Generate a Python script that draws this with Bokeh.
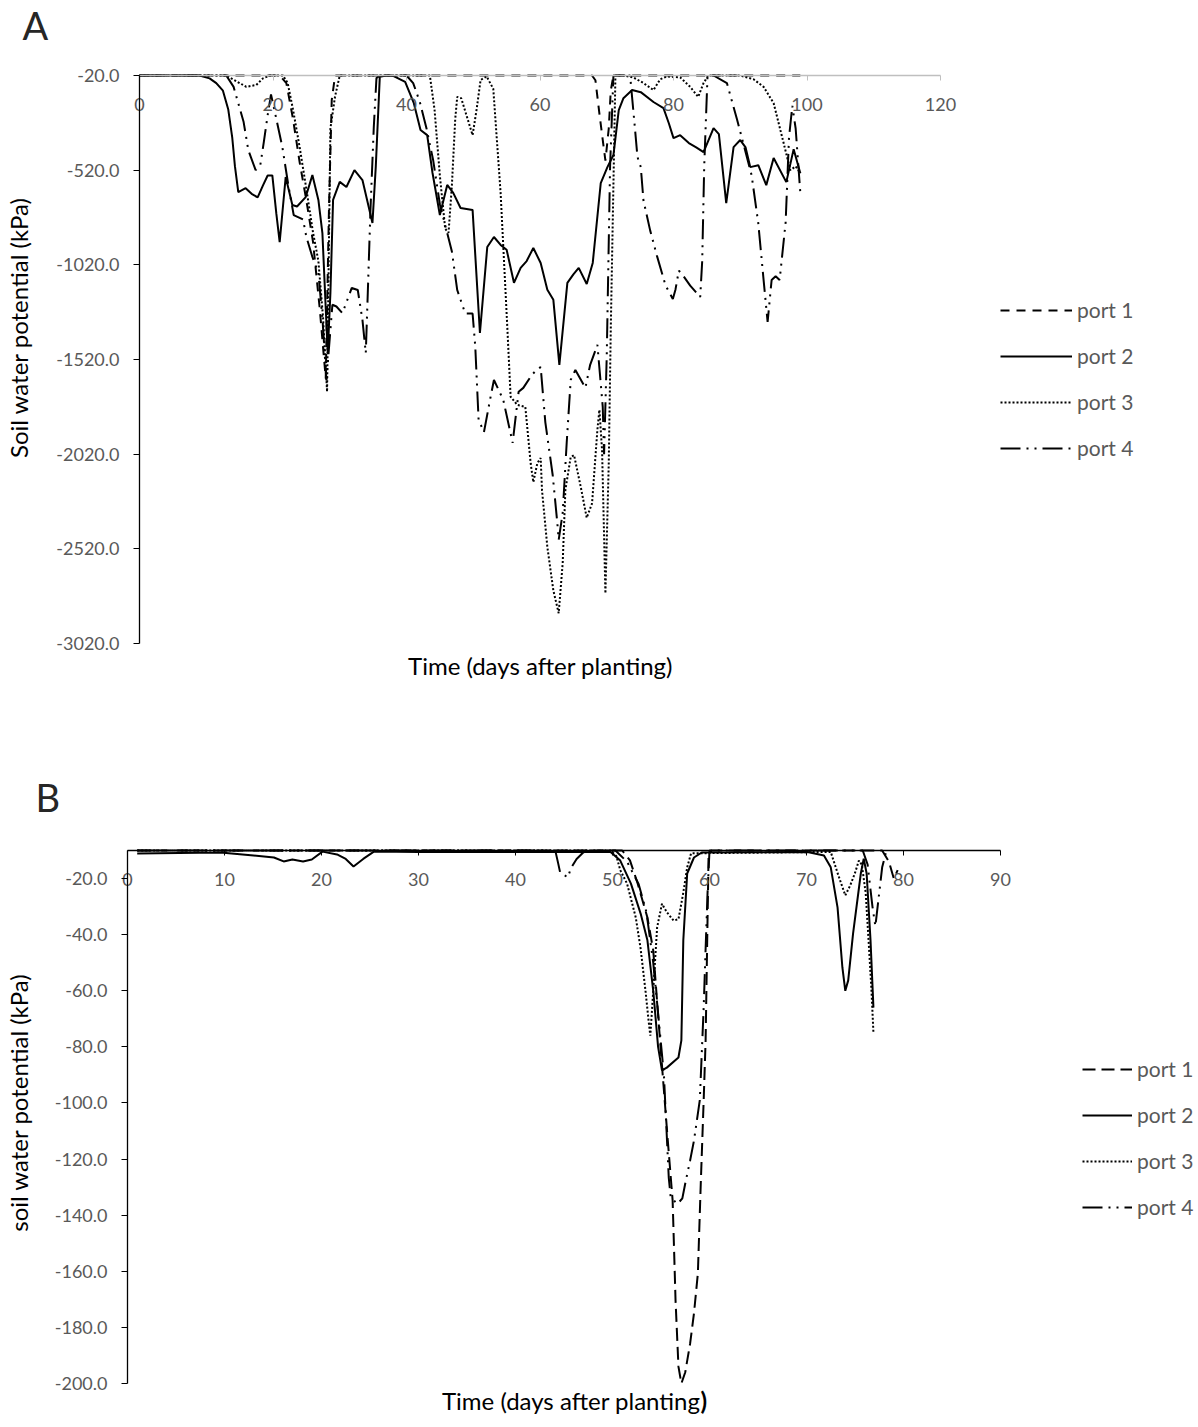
import math
from bokeh.plotting import figure
from bokeh.models import Range1d, FixedTicker, PrintfTickFormatter, Legend, LegendItem, Label
from bokeh.layouts import column
from bokeh.embed import file_html
from bokeh.resources import INLINE

FONT = "Lato"
TICK_GRAY = "#595959"

SERIES = ["port 1", "port 2", "port 3", "port 4"]

# ---------------- Panel A data (day, kPa) ----------------
A_XTICKS = [0, 20, 40, 60, 80, 100, 120]
A_YTICKS = [-3020, -2520, -2020, -1520, -1020, -520, -20]

A_PORT1 = [(0, -20), (21, -20), (22, -60), (23, -250), (24, -480), (25, -680), (26, -900),
           (27, -1250), (27.9, -1620), (28.4, -700), (28.8, -150), (29.3, -20), (67.8, -20),
           (68.3, -45), (69.0, -250), (69.8, -470), (70.3, -300), (70.6, -100), (71.0, -20),
           (99, -20)]

A_PORT2 = [(0, -20), (9, -20), (10.5, -35), (11.5, -60), (12.5, -100), (13.3, -200), (13.9, -350),
           (14.3, -500), (14.8, -636), (15.9, -615), (16.8, -645), (17.7, -664), (18.5, -600),
           (19.2, -548), (19.9, -548), (20.5, -750), (21.0, -900), (21.9, -556), (22.9, -704),
           (23.6, -712), (24.9, -662), (25.9, -546), (26.8, -677), (27.4, -852), (28.2, -1486),
           (28.6, -1169), (29.0, -677), (30.0, -582), (31.0, -609), (32.2, -520), (33.4, -572),
           (34.9, -799), (35.4, -500), (36.0, -27), (37, -20), (38, -22), (39.8, -54), (41.1, -166),
           (42.1, -308), (43.1, -335), (43.9, -535), (45.0, -757), (46.1, -598), (47.0, -640),
           (48.1, -720), (49.9, -730), (51.0, -1380), (52.1, -926), (53.1, -873), (54.1, -915),
           (55.0, -940), (56.1, -1115), (57.1, -1036), (58.0, -1000), (59.0, -931), (60.1, -1010),
           (61.1, -1152), (62.0, -1205), (62.9, -1548), (64.1, -1115), (65.0, -1070), (65.8, -1036),
           (67.0, -1121), (67.9, -1010), (69.1, -588), (70.1, -504), (71.0, -440), (71.8, -203),
           (72.5, -140), (73.8, -97), (75.1, -108), (77.0, -160), (78.5, -192), (79.3, -272),
           (80.0, -351), (81.0, -335), (82.3, -377), (83.4, -400), (84.5, -425), (86.0, -298),
           (86.8, -330), (87.9, -694), (89.0, -398), (90.0, -361), (90.8, -400), (91.5, -504),
           (92.7, -494), (93.9, -599), (95.0, -456), (96.9, -583), (98.0, -409), (99.0, -536)]

A_PORT3 = [(0, -20), (13, -20), (14.5, -50), (16, -80), (17.5, -70), (18.5, -35), (19.5, -20),
           (21.5, -20), (22.2, -60), (23, -200), (24, -400), (25, -620), (26, -850), (26.8, -1000),
           (27.5, -1300), (28.1, -1690), (28.6, -300), (29.3, -130), (30, -20), (43.5, -20),
           (44.2, -200), (45, -550), (45.8, -830), (46.3, -850), (46.8, -600), (47.3, -250),
           (47.6, -133), (48.2, -140), (49.9, -335), (50.5, -200), (51.1, -44), (52, -25),
           (53, -90), (54.1, -641), (55.1, -1348), (55.6, -1717), (56.6, -1760), (57.8, -1770),
           (58.6, -2068), (59.0, -2168), (59.6, -2068), (60.1, -2040), (60.3, -2210), (61.1, -2510),
           (62.0, -2740), (62.8, -2860), (63.4, -2596), (63.8, -2210), (64.6, -2035), (65.1, -2025),
           (66.1, -2192), (67.0, -2356), (67.8, -2280), (68.6, -1890), (68.9, -1786), (69.3, -2000),
           (69.8, -2755), (70.3, -2068), (70.6, -1364), (71.3, -20), (72.5, -20), (74, -30),
           (75.5, -60), (77, -97), (78, -40), (79, -25), (81, -30), (82.5, -80), (83.7, -133),
           (84.5, -60), (85.2, -20), (90, -20), (92, -40), (93.5, -80), (95, -166), (96.5, -377),
           (97.5, -520), (98.3, -500), (99, -536)]

A_PORT4 = [(0, -20), (13, -20), (14.1, -80), (15.6, -266), (16.3, -414), (17.4, -520), (18.1, -493),
           (18.6, -377), (19.2, -230), (19.7, -120), (20.2, -200), (21.4, -398), (22.3, -600),
           (23.1, -757), (24.5, -780), (25.0, -873), (25.9, -978), (26.8, -1063), (27.4, -1300),
           (28.0, -1630), (28.9, -1231), (29.5, -1240), (30.4, -1275), (31.8, -1142), (32.7, -1153),
           (33.4, -1311), (33.9, -1486), (34.2, -1169), (34.6, -731), (35.1, -292), (35.5, -34),
           (36, -20), (40, -20), (41, -60), (42, -160), (43, -300), (44, -468), (45, -700),
           (46.1, -852), (46.8, -950), (47.6, -1153), (48.8, -1277), (49.9, -1277), (50.3, -1450),
           (50.8, -1838), (51.6, -1904), (52.6, -1717), (53.1, -1628), (53.8, -1680), (54.5, -1734),
           (55.9, -1960), (56.8, -1690), (57.5, -1670), (58.8, -1600), (59.5, -1575), (60.1, -1560),
           (60.8, -1852), (61.9, -2130), (62.6, -2385), (62.8, -2473), (63.4, -2330), (64.0, -1960),
           (64.6, -1628), (65.3, -1575), (66.8, -1670), (67.5, -1550), (68.6, -1443), (69.4, -1770),
           (69.6, -2020), (70.0, -1500), (70.5, -500), (71.0, -20), (73.5, -20), (74.2, -290),
           (74.6, -450), (75.1, -504), (75.5, -680), (76.5, -838), (77.5, -970), (78.8, -1128),
           (79.9, -1201), (80.3, -1150), (80.8, -1050), (81.5, -1080), (82.5, -1130), (84.0, -1190),
           (84.3, -1000), (84.6, -500), (85.1, -20), (86, -20), (88, -60), (89.5, -250),
           (91.7, -546), (92.7, -800), (93.4, -1064), (94.1, -1322), (94.7, -1100), (95.3, -1080),
           (95.9, -1100), (96.8, -795), (97.3, -350), (97.8, -180), (98.3, -300), (99.0, -640)]

# ---------------- Panel B data (day, kPa) ----------------
B_XTICKS = [0, 10, 20, 30, 40, 50, 60, 70, 80, 90]
B_YTICKS = [-200, -180, -160, -140, -120, -100, -80, -60, -40, -20]

B_PORT1 = [(1, -10), (51, -10), (51.8, -13.5), (52.6, -21.8), (53.6, -33.9), (54.2, -45.6),
           (54.9, -77.7), (55.3, -95.5), (55.7, -113.4), (56.2, -134.8), (56.5, -170.4),
           (56.8, -194), (57.1, -200), (57.5, -196), (58.0, -185.8), (58.4, -175), (58.8, -160.8),
           (59.1, -128.7), (59.4, -99), (59.6, -77.7), (59.9, -12.5), (60.2, -10), (77.8, -10),
           (78.5, -14), (79.0, -20), (79.4, -17)]

B_PORT2 = [(1, -11.1), (9.6, -10.7), (13, -11.8), (15.1, -12.5), (16.1, -13.9), (17, -13.2),
           (18.1, -13.9), (19, -13.2), (20.1, -10.4), (21.6, -11.4), (22.5, -13), (23.3, -15.7),
           (24.3, -13), (25.4, -10.4), (30, -10.5), (49.8, -10.5), (50.8, -13.6), (51.9, -21.8),
           (52.9, -32.5), (53.6, -42), (54.2, -60), (54.7, -80), (55.1, -88.4), (55.6, -87.4),
           (56.8, -83.8), (57.1, -77.7), (57.3, -42), (57.7, -18.2), (58.4, -12.5), (59.2, -10.7),
           (70.1, -10.5), (71.8, -11.8), (72.5, -16), (73.2, -30.3), (73.7, -51.7), (74.0, -60),
           (74.3, -56.3), (74.8, -39.6), (75.6, -18.2), (75.9, -12.9), (76.2, -18.2), (76.6, -42),
           (76.9, -66)]

B_PORT3 = [(1, -10), (49.8, -10), (50.4, -12), (50.8, -17), (51.5, -21.8), (52.4, -33.9),
           (52.9, -45), (53.4, -60), (53.7, -70), (53.9, -76), (54.2, -60), (54.6, -37.4),
           (55.1, -29), (55.6, -32), (56.3, -35), (56.8, -34.5), (57.3, -25), (57.7, -16),
           (58.1, -11), (72.5, -10.5), (73.2, -18), (74.0, -26), (74.5, -22.5), (75.0, -18),
           (75.4, -13.6), (75.7, -15), (76.1, -25), (76.4, -42), (76.7, -60), (76.9, -75)]

B_PORT4 = [(1, -10), (44.1, -10), (44.4, -14.6), (44.6, -17.8), (45.4, -19.6), (45.7, -16.4),
           (46.3, -13), (46.9, -11), (47.3, -10), (50.3, -10), (51.5, -14), (52.7, -22),
           (53.5, -32), (54.2, -50), (54.7, -68), (55.3, -90), (55.8, -126.6), (56.0, -133.7),
           (56.7, -136), (57.2, -134), (57.5, -128.7), (58.0, -120.5), (58.4, -113.4), (59.0, -99),
           (59.4, -66), (59.6, -45), (59.8, -25), (60.0, -10), (75.8, -10), (76.3, -15),
           (76.8, -30), (77.1, -37), (77.4, -28), (77.8, -16), (78.2, -10.5)]

A_DATA = [A_PORT1, A_PORT2, A_PORT3, A_PORT4]
B_DATA = [B_PORT1, B_PORT2, B_PORT3, B_PORT4]

A_DASH = ["9 7", "solid", "2 2", "20 6 2 6 2 6"]
B_DASH = ["13 6", "solid", "2 2", "20 6 2 6 2 6"]


def build(data, dashes, size, xlim, ylim, xpx, ypx, xticks, yticks, xaxis_color,
          letter, letter_px, ytitle, ytitle_px, xtitle_parts, legend_px, glyph_w):
    W, H = size
    xmin, xmax = xlim          # axis extent (data)
    ybot, ytop = ylim
    x0px, x1px = xpx           # pixel positions of xmin / xmax
    y0px, y1px = ypx           # pixel positions of ytop / ybot
    sx = (x1px - x0px) / (xmax - xmin)
    sy = (y1px - y0px) / (ytop - ybot)
    xr = Range1d(xmin - x0px / sx, xmin + (W - x0px) / sx)
    yr = Range1d(ytop - (H - y0px) / sy, ytop + y0px / sy)

    def dx(px):
        return xmin + (px - x0px) / sx

    def dy(py):
        return ytop - (py - y0px) / sy

    p = figure(width=W, height=H, x_range=xr, y_range=yr, output_backend="svg",
               toolbar_location=None, min_border=0)
    p.outline_line_color = None
    p.xgrid.grid_line_color = None
    p.ygrid.grid_line_color = None

    ya = p.yaxis[0]
    ya.fixed_location = xmin
    ya.bounds = (ybot, ytop)
    ya.ticker = FixedTicker(ticks=yticks)
    ya.formatter = PrintfTickFormatter(format="%.1f")
    ya.axis_line_color = "black"
    ya.axis_line_width = 1.3
    ya.major_tick_line_color = "black"
    ya.major_tick_out = 6
    ya.major_tick_in = 0
    ya.minor_tick_line_color = None
    ya.major_label_text_font = FONT
    ya.major_label_text_font_size = "18px"
    ya.major_label_text_color = TICK_GRAY
    ya.major_label_standoff = 14

    xa = p.xaxis[0]
    xa.fixed_location = ytop
    xa.bounds = (xmin, xmax)
    xa.ticker = FixedTicker(ticks=xticks)
    xa.axis_line_color = xaxis_color
    xa.axis_line_width = 1.3
    xa.major_tick_line_color = xaxis_color
    xa.major_tick_out = 5
    xa.major_tick_in = 0
    xa.minor_tick_line_color = None
    xa.major_label_text_font = FONT
    xa.major_label_text_font_size = "18px"
    xa.major_label_text_color = TICK_GRAY
    xa.major_label_standoff = 17

    renderers = []
    for pts, dash in zip(data, dashes):
        xs = [d for d, v in pts]
        ys = [v for d, v in pts]
        renderers.append(p.line(xs, ys, line_color="black", line_width=2, line_dash=dash))

    items = [LegendItem(label=name, renderers=[r]) for name, r in zip(SERIES, renderers)]
    lx, ly_first = legend_px
    n = len(items)
    pitch = 45
    leg_bottom = ly_first + (n - 1) * pitch + 12
    leg = Legend(items=items, location=(lx, H - leg_bottom), orientation="vertical",
                 glyph_width=glyph_w, glyph_height=24, label_height=24, spacing=pitch - 24,
                 label_standoff=5, padding=0, margin=0, border_line_color=None,
                 background_fill_alpha=0, label_text_font=FONT, label_text_font_size="21px",
                 label_text_color=TICK_GRAY)
    p.add_layout(leg)

    # panel letter
    p.add_layout(Label(x=dx(letter_px[0]), y=dy(letter_px[1]), text=letter, text_font=FONT,
                       text_font_size="38px", text_color="#262626",
                       text_align="left", text_baseline="top"))
    # y title (rotated)
    p.add_layout(Label(x=dx(ytitle_px[0]), y=dy(ytitle_px[1]), text=ytitle, angle=math.pi / 2,
                       text_font=FONT, text_font_size="24px", text_color="black",
                       text_align="center", text_baseline="middle"))
    # x title (pieces, second may be bold)
    for txt, px, py, align, style in xtitle_parts:
        p.add_layout(Label(x=dx(px), y=dy(py), text=txt, text_font=FONT, text_font_size="24px",
                           text_font_style=style, text_color="black",
                           text_align=align, text_baseline="middle"))
    return p


pA = build(A_DATA, A_DASH, (1198, 740), (0, 120), (-3020, -20), (139, 940), (75, 643),
           A_XTICKS, A_YTICKS, "#BFBFBF", "A", (22, 1), "Soil water potential (kPa)", (18, 327),
           [("Time (days after planting)", 540, 665, "center", "normal")], (1000, 313), 72)

pB = build(B_DATA, B_DASH, (1198, 687), (0, 90), (-200, -10), (127, 1000), (110, 643),
           B_XTICKS, B_YTICKS, "black", "B", (35, 33), "soil water potential (kPa)", (18, 362),
           [("Time (days after planting", 700, 660, "right", "normal"),
            (")", 700, 660, "left", "bold")], (1082, 332), 50)

layout = column(pA, pB, spacing=0)
open("out.html", "w").write(file_html(layout, INLINE))
